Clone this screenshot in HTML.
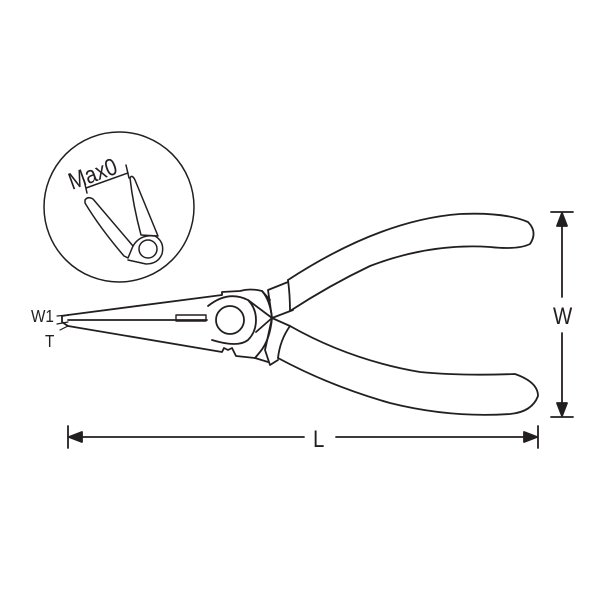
<!DOCTYPE html>
<html><head><style>body{margin:0;background:#fff}svg{display:block}</style></head>
<body>
<svg width="600" height="600" viewBox="0 0 600 600" xmlns="http://www.w3.org/2000/svg" fill="none" stroke="#231f20" stroke-width="1.8" stroke-linejoin="round" stroke-linecap="round">
<rect width="600" height="600" fill="#fff" stroke="none"/>
<!-- inset -->
<circle cx="119" cy="207" r="75" stroke-width="1.5"/>
<g stroke-width="1.5">
<path d="M86,188 L128,173"/>
<path d="M84,180 L87,193"/><path d="M126,165 L129,178"/>
<path d="M85,200 Q88,196 93,199 L133,246 L128,258 L124,256 Q100,228 85,203 Z"/>
<path d="M130,178 Q132,174 135,180 L158,236 L141,235 Q133,205 130,178 Z"/>
<path d="M133,246 Q140,234 155,236 Q165,242 162,254 Q158,264 146,264 L128,260"/>
<circle cx="148" cy="249" r="9"/>
</g>
<text x="0" y="0" transform="translate(72,190) rotate(-20) scale(0.85,1)" font-family="Liberation Sans, sans-serif" font-size="24" fill="#231f20" stroke="none">Max0</text>
<!-- jaws -->
<path d="M68,315 L222,295 L222,292 L240,291 Q250,288 262,291 L270,300"/>
<path d="M68,315 L62,316 L62,322 L68,326"/>
<path d="M68,320 L207,320"/>
<path d="M68,326 L222,352 L224,348 L228,350 L232,348 L236,356 L255,358 L268,362"/>
<rect x="176" y="315" width="30" height="6" stroke-width="1.4"/>
<circle cx="230" cy="320" r="14"/>
<path d="M208,306 Q228,290 248,300 Q256,308 256,320 Q256,332 248,340 Q238,348 212,340"/>
<path d="M262,291 Q270,300 272,318 Q270,340 260,352 L255,358"/>
<!-- joint -->
<path d="M272,318 L268,290 L288,282"/>
<path d="M272,318 L265,350 L270,365 L278,360"/>
<path d="M248,300 L272,318 L256,332"/>
<path d="M272,318 L293,310"/>
<path d="M272,318 L290,326"/>
<!-- upper handle -->
<path d="M288,280 Q290,295 290,311"/>
<path d="M288,280 Q380,220 460,214 Q505,212 528,222 Q538,232 530,244 Q518,250 490,247 Q430,243 370,266 Q330,285 290,311"/>
<!-- lower handle -->
<path d="M290,326 Q280,340 278,358"/>
<path d="M290,326 Q350,360 420,372 Q460,376 515,374 Q538,382 538,396 Q532,412 510,414 Q450,418 390,403 Q330,386 278,358"/>
<!-- W dimension -->
<path d="M551,212 L573,212"/><path d="M551,417 L573,417"/>
<path d="M562,218 L562,297"/><path d="M562,333 L562,411"/>
<path d="M562,213 L557,226 L567,226 Z" fill="#231f20"/>
<path d="M562,416 L557,403 L567,403 Z" fill="#231f20"/>
<text x="0" y="0" transform="translate(553,324) scale(0.85,1)" font-family="Liberation Sans, sans-serif" font-size="24" fill="#231f20" stroke="none">W</text>
<!-- L dimension -->
<path d="M68,426 L68,448"/><path d="M538,426 L538,448"/>
<path d="M70,437 L304,437"/><path d="M336,437 L536,437"/>
<path d="M69,437 L82,432 L82,442 Z" fill="#231f20"/>
<path d="M537,437 L524,432 L524,442 Z" fill="#231f20"/>
<text x="0" y="0" transform="translate(313,447) scale(0.85,1)" font-family="Liberation Sans, sans-serif" font-size="24" fill="#231f20" stroke="none">L</text>
<!-- W1 / T -->
<text x="0" y="0" transform="translate(31,322) scale(0.85,1)" font-family="Liberation Sans, sans-serif" font-size="18" fill="#231f20" stroke="none">W1</text>
<text x="0" y="0" transform="translate(45,347) scale(0.85,1)" font-family="Liberation Sans, sans-serif" font-size="18" fill="#231f20" stroke="none">T</text>
<path d="M57,316 L68,315" stroke-width="1.2"/><path d="M57,324 L68,322" stroke-width="1.2"/>
<path d="M60,330 L68,326" stroke-width="1.2"/>
</svg>
</body></html>
